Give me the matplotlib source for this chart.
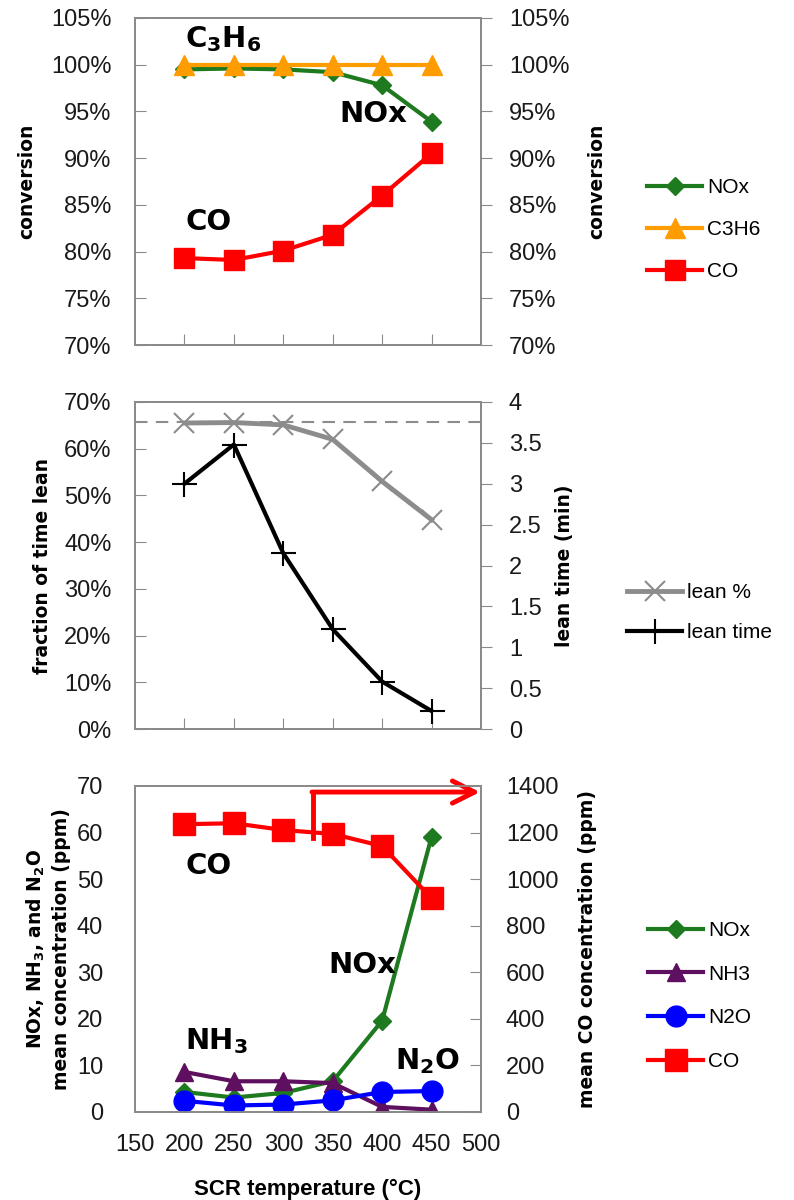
import matplotlib
matplotlib.use("Agg")
import matplotlib.pyplot as plt
from matplotlib.ticker import FuncFormatter

TFONT = 'Liberation Sans'

# ---------------- data ----------------
temps = [200, 250, 300, 350, 400, 450]

conv_nox = [99.5, 99.6, 99.5, 99.2, 97.8, 93.9]
conv_c3h6 = [100.0, 100.0, 100.0, 100.0, 100.0, 100.0]
conv_co = [79.3, 79.1, 80.1, 81.8, 86.0, 90.5]

lean_pct = [65.5, 65.6, 65.1, 62.0, 53.0, 44.8]
lean_time = [3.0, 3.48, 2.15, 1.22, 0.58, 0.22]
lean_ref = 65.8

conc_nox = [4.3, 3.1, 4.1, 6.6, 19.6, 59.1]
conc_nh3 = [8.6, 6.6, 6.6, 6.2, 1.1, 0.5]
conc_n2o = [2.4, 1.4, 1.6, 2.5, 4.3, 4.5]
conc_co = [1236, 1240, 1211, 1194, 1142, 918]

xticks_bottom = [150, 200, 250, 300, 350, 400, 450, 500]

# ---------------- styling ----------------
GREEN = '#1e7a1e'
ORANGE = '#ff9c00'
RED = '#ff0000'
PURPLE = '#5f0f5f'
BLUE = '#0000ff'
GRAY = '#8c8c8c'
SPINE = '#8a8a8a'
TICKFS = 17
LABFS = 13.5
ANNFS = 21
LEGFS = 15

W, H = 794, 1200
fig = plt.figure(figsize=(W / 100, H / 100), dpi=100)


def ax_rect(top_px, bot_px, left_px=135, right_px=481):
    return [left_px / W, 1 - bot_px / H, (right_px - left_px) / W, (bot_px - top_px) / H]


def style_spines(ax):
    for s in ax.spines.values():
        s.set_color(SPINE)
        s.set_linewidth(1.3)


def tick_font(ax):
    for lab in ax.get_yticklabels() + ax.get_xticklabels():
        lab.set_fontfamily(TFONT)
        lab.set_fontsize(TICKFS)
        lab.set_color('#1a1a1a')


ann_kw = dict(fontsize=ANNFS, fontweight='bold', family='DejaVu Sans', ha='center', va='center')
lab_kw = dict(fontsize=LABFS, fontweight='bold', family='DejaVu Sans')
pctfmt = FuncFormatter(lambda v, p: f"{v:.0f}%")

# ======== top panel ========
ax1 = fig.add_axes(ax_rect(18, 345))
ax1r = ax1.twinx()
style_spines(ax1)
style_spines(ax1r)
ax1.set_xlim(150, 500)
ax1.set_ylim(70, 105)
ax1r.set_ylim(70, 105)
yt = list(range(70, 106, 5))
ax1.set_yticks(yt)
ax1r.set_yticks(yt)
ax1.yaxis.set_major_formatter(pctfmt)
ax1r.yaxis.set_major_formatter(pctfmt)
ax1.set_xticks(temps)
ax1.set_xticklabels([])
ax1.tick_params(axis='x', direction='in', length=8, color=SPINE)
ax1.tick_params(axis='y', direction='in', length=8, color=SPINE, pad=17)
ax1r.tick_params(axis='y', direction='out', length=8, color=SPINE, pad=12)

ax1.plot(temps, conv_nox, color=GREEN, lw=3, marker='D', ms=9, label='NOx', zorder=3)
ax1.plot(temps, conv_c3h6, color=ORANGE, lw=3, marker='^', ms=15, label='C3H6', zorder=4)
ax1.plot(temps, conv_co, color=RED, lw=3, marker='s', ms=15, label='CO', zorder=5)
ax1.text(239, 102.7, r'C$_\mathbf{3}$H$_\mathbf{6}$', **ann_kw)
ax1.text(391, 94.7, 'NOx', **ann_kw)
ax1.text(224, 83.2, 'CO', **ann_kw)
ax1.set_ylabel('conversion', **lab_kw)
ax1.yaxis.set_label_coords(-0.286, 0.5)
ax1r.set_ylabel('conversion', **lab_kw)
ax1r.yaxis.set_label_coords(1.306, 0.5)
tick_font(ax1)
tick_font(ax1r)

# ======== middle panel ========
ax2 = fig.add_axes(ax_rect(402, 729))
ax2r = ax2.twinx()
style_spines(ax2)
style_spines(ax2r)
ax2.set_xlim(150, 500)
ax2.set_ylim(0, 70)
ax2.set_yticks(list(range(0, 71, 10)))
ax2.yaxis.set_major_formatter(pctfmt)
ax2r.set_ylim(0, 4)
ax2r.set_yticks([i * 0.5 for i in range(9)])
ax2r.yaxis.set_major_formatter(FuncFormatter(lambda v, p: f"{v:g}"))
ax2.set_xticks(temps)
ax2.set_xticklabels([])
ax2.tick_params(axis='x', direction='in', length=8, color=SPINE)
ax2.tick_params(axis='y', direction='in', length=8, color=SPINE, pad=17)
ax2r.tick_params(axis='y', direction='out', length=8, color=SPINE, pad=12)

ax2.axhline(lean_ref, color=GRAY, lw=1.5, ls=(0, (6, 4)), zorder=1)
ax2.plot(temps, lean_pct, color=GRAY, lw=3.5, marker='x', ms=14, mew=1.5, label='lean %', zorder=3)
ax2r.plot(temps, lean_time, color='black', lw=3, marker='+', ms=18, mew=1.5, label='lean time', zorder=3)
ax2.set_ylabel('fraction of time lean', **lab_kw)
ax2.yaxis.set_label_coords(-0.241, 0.5)
ax2r.set_ylabel('lean time (min)', **lab_kw)
ax2r.yaxis.set_label_coords(1.213, 0.5)
tick_font(ax2)
tick_font(ax2r)

# ======== bottom panel ========
ax3 = fig.add_axes(ax_rect(786, 1112))
ax3r = ax3.twinx()
style_spines(ax3)
style_spines(ax3r)
ax3.set_xlim(150, 500)
ax3.set_ylim(0, 70)
ax3.set_yticks(list(range(0, 71, 10)))
ax3r.set_ylim(0, 1400)
ax3r.set_yticks(list(range(0, 1401, 200)))
ax3.set_xticks(xticks_bottom)
ax3.tick_params(axis='x', length=0, pad=16)
ax3.tick_params(axis='y', length=0, pad=23)
ax3r.tick_params(axis='y', direction='in', length=8, color=SPINE, pad=18)

ax3.plot(temps, conc_nox, color=GREEN, lw=3, marker='D', ms=9, label='NOx', zorder=3)
ax3.plot(temps, conc_nh3, color=PURPLE, lw=3, marker='^', ms=13, label='NH3', zorder=3)
ax3.plot(temps, conc_n2o, color=BLUE, lw=3, marker='o', ms=15, label='N2O', zorder=4)
ax3r.plot(temps, conc_co, color=RED, lw=3, marker='s', ms=16, label='CO', zorder=3)

ax3.text(224, 52.8, 'CO', **ann_kw)
ax3.text(380, 31.6, 'NOx', **ann_kw)
ax3.text(232, 15.2, r'NH$_\mathbf{3}$', **ann_kw)
ax3.text(446, 10.9, r'N$_\mathbf{2}$O', **ann_kw)

# arrow indicating CO -> right axis
ax3.plot([330, 330], [58.8, 68.7], color=RED, lw=3.5, clip_on=False, zorder=6,
         solid_capstyle='projecting')
ax3.annotate('', xy=(499, 68.7), xytext=(329, 68.7), xycoords='data',
             arrowprops=dict(arrowstyle='->,head_length=1.6,head_width=0.8',
                             mutation_scale=10, color=RED, lw=3.5, shrinkA=0, shrinkB=0),
             annotation_clip=False, zorder=6)

ax3.set_ylabel('NOx, NH$_\\mathbf{3}$, and N$_\\mathbf{2}$O\nmean concentration (ppm)',
               linespacing=1.3, **lab_kw)
ax3.yaxis.set_label_coords(-0.185, 0.5)
ax3r.set_ylabel('mean CO concentration (ppm)', **lab_kw)
ax3r.yaxis.set_label_coords(1.28, 0.5)
ax3.set_xlabel('SCR temperature (°C)', family=TFONT, fontsize=16, fontweight='bold')
ax3.xaxis.set_label_coords(0.5, -0.205)
tick_font(ax3)
tick_font(ax3r)

# ---------------- legends ----------------
def make_legend(handles, labels, x_px, y_center_px, spacing):
    fig.legend(handles, labels, loc='center left',
               bbox_to_anchor=(x_px / W, 1 - y_center_px / H),
               frameon=False, borderpad=0, borderaxespad=0,
               handlelength=2.64, handletextpad=0.24, labelspacing=spacing,
               prop={'family': TFONT, 'size': LEGFS})

h_top = ax1.get_lines()
make_legend(h_top, ['NOx', 'C3H6', 'CO'], 647, 229.5, 1.1)
h_mid = [ax2.get_lines()[1], ax2r.get_lines()[0]]
make_legend(h_mid, ['lean %', 'lean time'], 627, 612.5, 1.0)
h_bot = ax3.get_lines()[:3] + [ax3r.get_lines()[0]]
make_legend(h_bot, ['NOx', 'NH3', 'N2O', 'CO'], 648, 996, 1.18)

fig.savefig('out.png', dpi=100)
